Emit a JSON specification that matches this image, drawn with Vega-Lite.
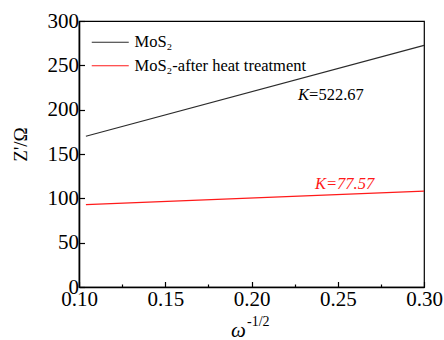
{
  "$schema": "https://vega.github.io/schema/vega-lite/v6.json",
  "width": 345,
  "height": 266,
  "autosize": {"type": "none"},
  "padding": {"left": 79, "top": 21, "right": 20, "bottom": 53},
  "background": "white",
  "config": {
    "view": {"stroke": "#000", "strokeWidth": 1.2},
    "font": "Liberation Serif",
    "text": {"font": "Liberation Serif"},
    "axis": {
      "domainColor": "#000",
      "domainWidth": 1.6,
      "tickColor": "#000",
      "tickWidth": 1.2,
      "grid": false,
      "labelFont": "Liberation Serif",
      "labelFontSize": 21,
      "labelColor": "#000",
      "titleFont": "Liberation Serif",
      "titleColor": "#000",
      "titleFontWeight": "normal"
    },
    "legend": {"labelFont": "Liberation Serif"}
  },
  "datasets": {
    "notes": [
      {"x": 0.1974, "z": -39.5, "t": "-1/2", "kind": "sup"},
      {"x": 0.2270, "z": 211, "t": "K", "kind": "kblack"},
      {"x": 0.2334, "z": 211, "t": "=522.67", "kind": "vblack"},
      {"x": 0.2368, "z": 110.5, "t": "K=77.57", "kind": "red"}
    ]
  },
  "layer": [
    {
      "data": {"values": [
        {"x": 0.104, "z": 170, "series": "MoS₂"},
        {"x": 0.3, "z": 272.5, "series": "MoS₂"},
        {"x": 0.104, "z": 93, "series": "MoS₂-after heat treatment"},
        {"x": 0.3, "z": 108.2, "series": "MoS₂-after heat treatment"}
      ]},
      "mark": {"type": "line", "strokeWidth": 1.2},
      "encoding": {
        "x": {
          "field": "x", "type": "quantitative",
          "scale": {"domain": [0.1, 0.3], "nice": false, "zero": false},
          "axis": {
            "values": [0.1, 0.125, 0.15, 0.175, 0.2, 0.225, 0.25, 0.275, 0.3],
            "labelExpr": "abs(datum.value*20 - round(datum.value*20)) < 0.001 ? format(datum.value, '.2f') : ''",
            "tickSize": {"condition": {"test": "abs(datum.value*20 - round(datum.value*20)) < 0.001", "value": -5.5}, "value": -3},
            "labelPadding": 7,
            "labelFlush": false,
            "labelOverlap": false,
            "title": "ω",
            "titleFont": "Liberation Serif",
            "titleFontStyle": "italic",
            "titleFontSize": 21,
            "titleX": 159,
            "titleY": 49,
            "titleBaseline": "alphabetic"
          }
        },
        "y": {
          "field": "z", "type": "quantitative",
          "scale": {"domain": [0, 300], "nice": false},
          "axis": {
            "values": [0, 25, 50, 75, 100, 125, 150, 175, 200, 225, 250, 275, 300],
            "labelExpr": "datum.value % 50 == 0 ? datum.value : ''",
            "tickSize": {"condition": {"test": "datum.value % 50 == 0", "value": -5.5}, "value": -3},
            "labelPadding": 6,
            "labelFlush": false,
            "labelOverlap": false,
            "title": "Z'/Ω",
            "titleFont": "Liberation Serif",
            "titleFontSize": 19,
            "titleX": -59,
            "titleY": 123,
            "titleAngle": -90,
            "titleAlign": "center",
            "titleBaseline": "middle"
          }
        },
        "color": {
          "field": "series", "type": "nominal",
          "scale": {"domain": ["MoS₂", "MoS₂-after heat treatment"], "range": ["#2b2b2b", "#ff1a1a"]},
          "legend": {
            "title": null,
            "orient": "none",
            "legendX": 23,
            "legendY": 13,
            "padding": 0,
            "symbolType": "M-2.5,0H2.5",
            "symbolSize": 219,
            "symbolStrokeWidth": 1.2,
            "labelFont": "Liberation Serif",
            "labelFontSize": 16.5,
            "labelColor": "#000",
            "labelOffset": 16,
            "rowPadding": 6.5,
            "labelLimit": 400
          }
        }
      }
    },
    {
      "data": {"name": "notes"},
      "transform": [{"filter": "datum.kind == 'sup'"}],
      "mark": {"type": "text", "align": "left", "baseline": "middle", "clip": false, "font": "Liberation Serif", "fontSize": 14, "color": "#000"},
      "encoding": {
        "x": {"field": "x", "type": "quantitative"},
        "y": {"field": "z", "type": "quantitative"},
        "text": {"field": "t"}
      }
    },
    {
      "data": {"name": "notes"},
      "transform": [{"filter": "datum.kind == 'kblack'"}],
      "mark": {"type": "text", "align": "left", "baseline": "alphabetic", "font": "Liberation Serif", "fontStyle": "italic", "fontSize": 16.5, "color": "#000"},
      "encoding": {
        "x": {"field": "x", "type": "quantitative"},
        "y": {"field": "z", "type": "quantitative"},
        "text": {"field": "t"}
      }
    },
    {
      "data": {"name": "notes"},
      "transform": [{"filter": "datum.kind == 'vblack'"}],
      "mark": {"type": "text", "align": "left", "baseline": "alphabetic", "font": "Liberation Serif", "fontSize": 16.5, "color": "#000"},
      "encoding": {
        "x": {"field": "x", "type": "quantitative"},
        "y": {"field": "z", "type": "quantitative"},
        "text": {"field": "t"}
      }
    },
    {
      "data": {"name": "notes"},
      "transform": [{"filter": "datum.kind == 'red'"}],
      "mark": {"type": "text", "align": "left", "baseline": "alphabetic", "font": "Liberation Serif", "fontStyle": "italic", "fontSize": 16.5, "color": "#ff1a1a"},
      "encoding": {
        "x": {"field": "x", "type": "quantitative"},
        "y": {"field": "z", "type": "quantitative"},
        "text": {"field": "t"}
      }
    }
  ]
}
